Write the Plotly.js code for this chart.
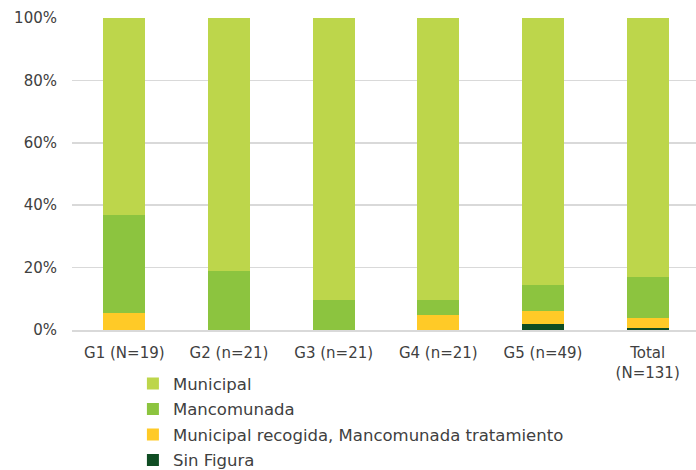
<!DOCTYPE html>
<html><head><meta charset="utf-8">
<script src="https://cdn.plot.ly/plotly-3.0.1.min.js"></script>
<style>html,body{margin:0;padding:0;overflow:hidden;background:#fff}</style>
</head><body>
<div id="chart"></div>
<script>
const categories = ["G1 (N=19)", "G2 (n=21)", "G3 (n=21)", "G4 (n=21)", "G5 (n=49)", "Total<br>(N=131)"];
const sinFigura = [0, 0, 0, 0, 2.0, 0.8];
const municipalRecogida = [5.3, 0, 0, 4.8, 4.1, 3.1];
const mancomunada = [31.6, 19.0, 9.5, 4.8, 8.2, 13.0];
const municipal = [63.2, 81.0, 90.5, 90.5, 85.7, 83.2];
const yTicks = [0, 20, 40, 60, 80, 100];
const yTickLabels = ["0%", "20%", "40%", "60%", "80%", "100%"];

const series = [
  {name: "Sin Figura", y: sinFigura, color: "#0F4D23", rank: 4},
  {name: "Municipal recogida, Mancomunada tratamiento", y: municipalRecogida, color: "#FFCA27", rank: 3},
  {name: "Mancomunada", y: mancomunada, color: "#8CC43F", rank: 2},
  {name: "Municipal", y: municipal, color: "#BDD64B", rank: 1}
];
const traces = series.map((s, i) => ({
  type: "bar", x: categories, y: s.y, name: s.name, legendgroup: "g" + i, legendrank: s.rank,
  marker: {color: s.color, line: {width: 0}}, hoverinfo: "name+y"
}));
const layout = {
  width: 700, height: 470,
  margin: {l: 72, r: 0, t: 18, b: 140},
  barmode: "stack", bargap: 0.6,
  paper_bgcolor: "#fff", plot_bgcolor: "#fff",
  font: {family: "DejaVu Sans, sans-serif", size: 15, color: "#404040"},
  xaxis: {showgrid: false, showline: true, linecolor: "#D9D9D9", linewidth: 2, ticks: "",
          tickfont: {size: 15}, ticklabelstandoff: 8},
  yaxis: {range: [0, 100], tickvals: yTicks, ticktext: yTickLabels, gridcolor: "#D9D9D9", gridwidth: 1.5,
          zeroline: false, showline: false, ticks: "", ticklen: 0, tickfont: {size: 15},
          ticklabelstandoff: 14, automargin: false},
  showlegend: true,
  legend: {orientation: "v", traceorder: "grouped", x: 0.097, xanchor: "left",
           yref: "container", y: 0.2205, yanchor: "top",
           font: {size: 16.5}, itemwidth: 30, tracegroupgap: 1, bgcolor: "rgba(0,0,0,0)"}
};
Plotly.newPlot("chart", traces, layout, {displayModeBar: false, staticPlot: true});
</script>
</body></html>
